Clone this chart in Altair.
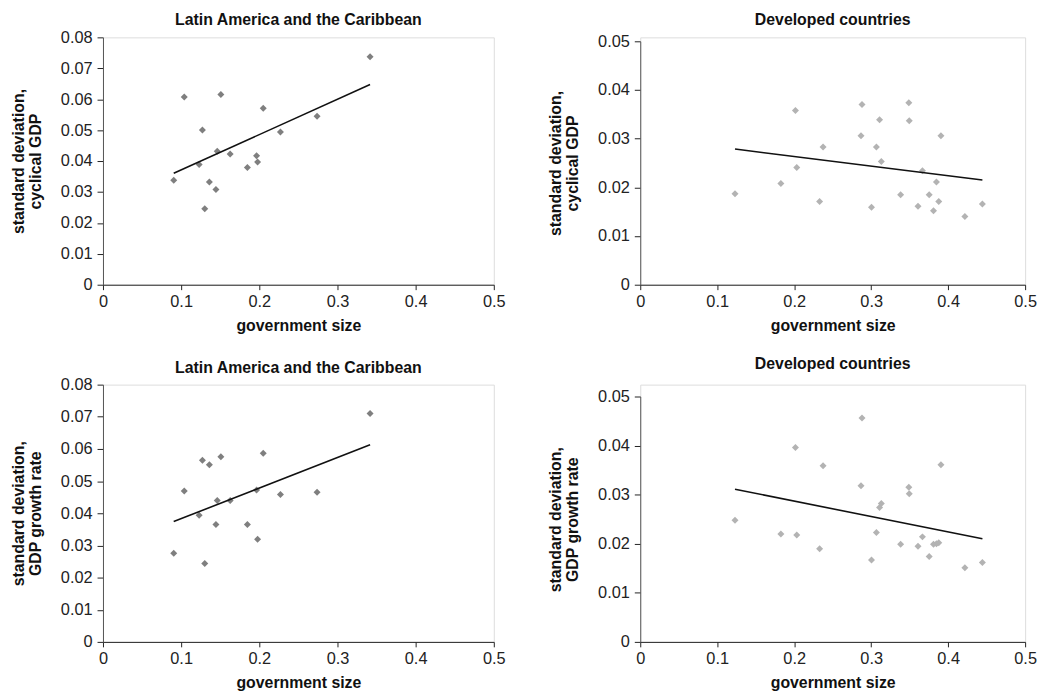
import altair as alt
import pandas as pd

# Government size (share) for each group of countries
lac_size = [0.0905, 0.1040, 0.1272, 0.1508, 0.1230, 0.1462, 0.1627, 0.1361, 0.1445,
            0.1302, 0.1847, 0.1965, 0.1978, 0.2050, 0.2270, 0.2739, 0.3417]
lac_sd_cyclical = [0.0338, 0.0607, 0.0500, 0.0615, 0.0389, 0.0432, 0.0423, 0.0332, 0.0308,
                   0.0246, 0.0379, 0.0417, 0.0397, 0.0571, 0.0494, 0.0545, 0.0737]
lac_sd_growth = [0.0276, 0.0469, 0.0565, 0.0576, 0.0394, 0.0440, 0.0440, 0.0551, 0.0365,
                 0.0244, 0.0365, 0.0472, 0.0319, 0.0587, 0.0458, 0.0465, 0.0710]

dev_size = [0.1231, 0.1827, 0.2016, 0.2033, 0.2330, 0.2375, 0.2881, 0.2868, 0.3004,
            0.3068, 0.3109, 0.3132, 0.3383, 0.3489, 0.3495, 0.3608, 0.3666, 0.3754,
            0.3810, 0.3848, 0.3878, 0.3906, 0.4217, 0.4445]
dev_sd_cyclical = [0.0187, 0.0208, 0.0358, 0.0241, 0.0171, 0.0283, 0.0370, 0.0306, 0.0159,
                   0.0283, 0.0339, 0.0253, 0.0185, 0.0374, 0.0337, 0.0161, 0.0234, 0.0185,
                   0.0152, 0.0211, 0.0171, 0.0306, 0.0140, 0.0166]
dev_sd_growth = [0.0248, 0.0220, 0.0396, 0.0218, 0.0190, 0.0359, 0.0456, 0.0318, 0.0167,
                 0.0223, 0.0274, 0.0282, 0.0199, 0.0315, 0.0302, 0.0195, 0.0214, 0.0174,
                 0.0199, 0.0200, 0.0202, 0.0361, 0.0151, 0.0162]

x_ticks = [0, 0.1, 0.2, 0.3, 0.4, 0.5]
y_ticks_lac = [0, 0.01, 0.02, 0.03, 0.04, 0.05, 0.06, 0.07, 0.08]
y_ticks_dev = [0, 0.01, 0.02, 0.03, 0.04, 0.05]

title_lac = "Latin America and the Caribbean"
title_dev = "Developed countries"
ytitle_cyc = ["standard deviation,", "cyclical GDP"]
ytitle_gr = ["standard deviation,", "GDP growth rate"]
xtitle = "government size"

FONT = "Liberation Sans"
LFS = 16.5   # tick labels
TFS = 16     # titles


def panel(size, sd, title, ytitle, ymax, yvals, color, w, h, top):
    df = pd.DataFrame({"size": size, "sd": sd})
    xenc = alt.X(
        "size:Q",
        scale=alt.Scale(domain=[0, 0.5], nice=False, zero=False),
        axis=alt.Axis(values=x_ticks, format="~g", title=xtitle, grid=False,
                      tickSize=5, labelPadding=4, titlePadding=8,
                      domainColor="#222", tickColor="#222", labelColor="#222",
                      labelFont=FONT, labelFontSize=LFS, titleFont=FONT,
                      titleFontSize=TFS, titleFontWeight="bold", titleColor="#111",
                      labelFlush=False, labelOverlap=False),
    )
    yenc = alt.Y(
        "sd:Q",
        scale=alt.Scale(domain=[0, ymax], nice=False, zero=False, range=[h, top]),
        axis=alt.Axis(values=yvals, format="~g", title=ytitle, grid=False,
                      tickSize=6, labelPadding=5, titlePadding=17,
                      domainColor="#555", tickColor="#222", labelColor="#222",
                      labelFont=FONT, labelFontSize=LFS, titleFont=FONT,
                      titleFontSize=TFS, titleFontWeight="bold", titleColor="#111",
                      titleLineHeight=17, labelFlush=False, labelOverlap=False),
    )
    pts = alt.Chart(df).mark_point(shape="diamond", filled=True, size=50,
                                   color=color, opacity=1).encode(x=xenc, y=yenc)
    line = alt.Chart(df).transform_regression("size", "sd").mark_line(
        color="#111", strokeWidth=1.6).encode(x=xenc, y=yenc)
    return alt.layer(pts, line).properties(
        width=w, height=h,
        title=alt.TitleParams(title, offset=1 + top, font=FONT, fontSize=TFS,
                              fontWeight="bold", color="#111", anchor="middle"),
    )


LAC_COLOR = "#7f7f7f"
DEV_COLOR = "#b3b3b3"

tl = panel(lac_size, lac_sd_cyclical, title_lac, ytitle_cyc, 0.08, y_ticks_lac, LAC_COLOR, 395, 250, 0)
tr = panel(dev_size, dev_sd_cyclical, title_dev, ytitle_cyc, 0.05, y_ticks_dev, DEV_COLOR, 389, 250, 4)
bl = panel(lac_size, lac_sd_growth, title_lac, ytitle_gr, 0.08, y_ticks_lac, LAC_COLOR, 395, 260, 0)
br = panel(dev_size, dev_sd_growth, title_dev, ytitle_gr, 0.05, y_ticks_dev, DEV_COLOR, 389, 260, 12)

chart = alt.concat(
    tl, tr, bl, br, columns=2, bounds="flush", align="each",
    spacing=alt.RowColnumber(row=101, column=148),
).properties(
    padding={"left": 2, "top": 0, "right": 0, "bottom": 0}
).configure_view(stroke=None).configure(background="white")

chart.save("out.html", embed_options={"renderer": "svg", "actions": False})
